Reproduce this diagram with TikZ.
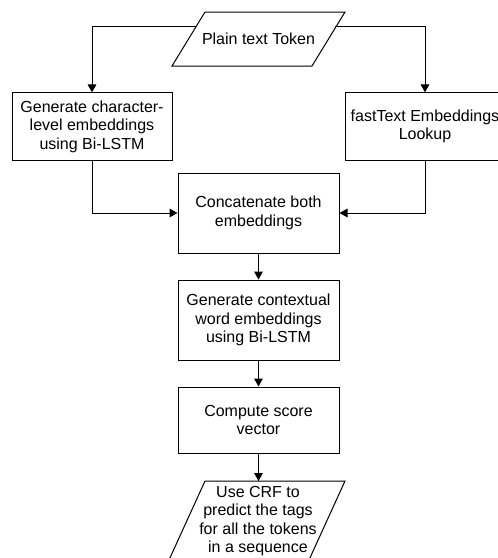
\documentclass[tikz,border=0pt]{standalone}
\usepackage{fontspec}
\setmainfont{Liberation Sans}
\usetikzlibrary{arrows.meta,calc}
\begin{document}
\begin{tikzpicture}[x=0.75pt,y=-0.75pt,
  every node/.style={font=\fontsize{12}{13.9}\selectfont, text=black, align=center},
  box/.style={draw, line width=0.75pt, rectangle, inner sep=1pt},
  shp/.style={draw, line width=0.75pt, line join=miter},
  arr/.style={draw, line width=0.75pt, -{Triangle[length=6pt,width=6.5pt]}}]
\useasboundingbox (0,0) rectangle (498,558);
% top parallelogram
\draw[shp] (205,12) -- (345,12) -- (312,66) -- (172,66) -- cycle;
\node (tok) at (258.5,39) {Plain text Token};
\coordinate (tl) at (196.4,26);
\coordinate (tr) at (335,26);
\node[box, minimum width=120pt, minimum height=50.5pt] (gen) at (92,126.5) {Generate character-\\level embeddings\\using Bi-LSTM};
\node[box, minimum width=120pt, minimum height=50.5pt] (fast) at (425,126.5) {fastText Embeddings\\Lookup};
\node[box, minimum width=120.75pt, minimum height=60pt] (cat) at (258.5,213) {Concatenate both\\embeddings};
\node[box, minimum width=120.75pt, minimum height=60pt] (ctx) at (258.5,320) {Generate contextual\\word embeddings\\using Bi-LSTM};
\node[box, minimum width=120.75pt, minimum height=49.5pt] (score) at (258.5,420) {Compute score\\vector};
% bottom parallelogram
\draw[shp] (205,481) -- (345,481) -- (309,560) -- (169,560) -- cycle;
\node (crf) at (258,521) {Use CRF to\\predict the tags\\for all the tokens\\in a sequence};
\coordinate (crftop) at (258.5,481);
\draw[arr] (tl) -| (gen.north);
\draw[arr] (tr) -| (fast.north);
\draw[arr] (gen.south) |- (cat.west);
\draw[arr] (fast.south) |- (cat.east);
\draw[arr] (cat) -- (ctx);
\draw[arr] (ctx) -- (score);
\draw[arr] (score) -- (crftop);
\end{tikzpicture}
\end{document}
